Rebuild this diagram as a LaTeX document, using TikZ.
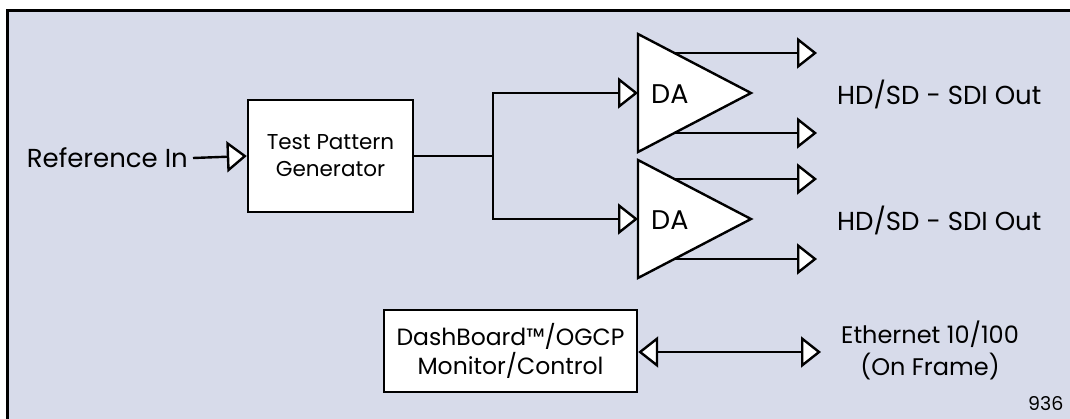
\documentclass[tikz,border=0pt]{standalone}
\usepackage{fontspec}
\setmainfont{Poppins}
\usetikzlibrary{arrows.meta,calc}
\definecolor{bgblue}{RGB}{215,219,234}
\tikzset{
  conn/.style={line width=2.4pt, line cap=butt},
  tipopen/.style={-{Triangle[length=20pt,width=31pt,fill=white,line join=miter]}},
  bothopen/.style={{Triangle[length=20pt,width=31pt,fill=white]}-{Triangle[length=20pt,width=31pt,fill=white]}},
  blockbox/.style={draw, line width=2.4pt, fill=white, align=center, inner sep=0pt},
  amp/.style={draw, line width=2.4pt, fill=white, line join=miter},
  lbl/.style={inner sep=0pt, align=center}
}
\begin{document}
\begin{tikzpicture}[x=1pt,y=-1pt]
\useasboundingbox (0,0) rectangle (1070,418);
\begin{scope}
\clip (0,0) rectangle (1070,418);
\draw[line width=3pt, fill=bgblue] (7,10) rectangle (1090,440);
\end{scope}

% Reference In
\node[lbl, anchor=east, font=\fontsize{26}{30}\selectfont] (refin) at (188,158) {Reference In};

% Test Pattern Generator
\node[blockbox, minimum width=165pt, minimum height=112pt, font=\fontsize{21.5}{27}\selectfont] (tpg) at (330.5,156) {Test Pattern\\Generator};

\draw[conn, tipopen] (refin.east) ++(5,0) coordinate (refstart) -- (tpg.west);

% Distribution amplifiers
\coordinate (da1top) at (638,34);
\coordinate (da1bot) at (638,152);
\coordinate (da1apex) at (751,93);
\coordinate (da2top) at (638,160);
\coordinate (da2bot) at (638,278);
\coordinate (da2apex) at (751,219);
\draw[amp] (da1top) -- (da1apex) -- (da1bot) -- cycle;
\draw[amp] (da2top) -- (da2apex) -- (da2bot) -- cycle;
\node[lbl, anchor=west, font=\fontsize{27}{30}\selectfont] (da1) at (651,94) {DA};
\node[lbl, anchor=west, font=\fontsize{27}{30}\selectfont] (da2) at (651,220) {DA};
\coordinate (da1in) at (638,93);
\coordinate (da2in) at (638,219);

% split
\coordinate (split) at (493,156);
\draw[conn] (tpg.east) -- (split);
\draw[conn, tipopen] (split) |- (da1in);
\draw[conn, tipopen] (split) |- (da2in);

% outputs
\coordinate (o1a) at ($(da1top)!0.322!(da1apex)$);
\coordinate (o1b) at ($(da1apex)!0.678!(da1bot)$);
\coordinate (o2a) at ($(da2top)!0.322!(da2apex)$);
\coordinate (o2b) at ($(da2apex)!0.678!(da2bot)$);
\coordinate (e1a) at (817,53);
\coordinate (e1b) at (817,133);
\coordinate (e2a) at (817,179);
\coordinate (e2b) at (817,259);
\draw[conn, tipopen] (o1a) -- (o1a -| e1a);
\draw[conn, tipopen] (o1b) -- (o1b -| e1b);
\draw[conn, tipopen] (o2a) -- (o2a -| e2a);
\draw[conn, tipopen] (o2b) -- (o2b -| e2b);

\node[lbl, anchor=west, font=\fontsize{26}{30}\selectfont] (out1) at (837,94) {HD/SD - SDI Out};
\node[lbl, anchor=west, font=\fontsize{26}{30}\selectfont] (out2) at (837,220) {HD/SD - SDI Out};

% DashBoard
\node[blockbox, minimum width=253pt, minimum height=82pt, font=\fontsize{23.5}{29}\selectfont] (dash) at (510.5,351) {DashBoard™/OGCP\\Monitor/Control};
\coordinate (ethend) at (821,352);
\draw[conn, bothopen] (dash.east |- ethend) -- (ethend);
\node[lbl, font=\fontsize{24}{32}\selectfont] (eth) at (930,350) {Ethernet 10/100\\(On Frame)};

\node[lbl, anchor=base west, font=\fontsize{19}{22}\selectfont] (num) at (1028,410) {936};
\end{tikzpicture}
\end{document}
